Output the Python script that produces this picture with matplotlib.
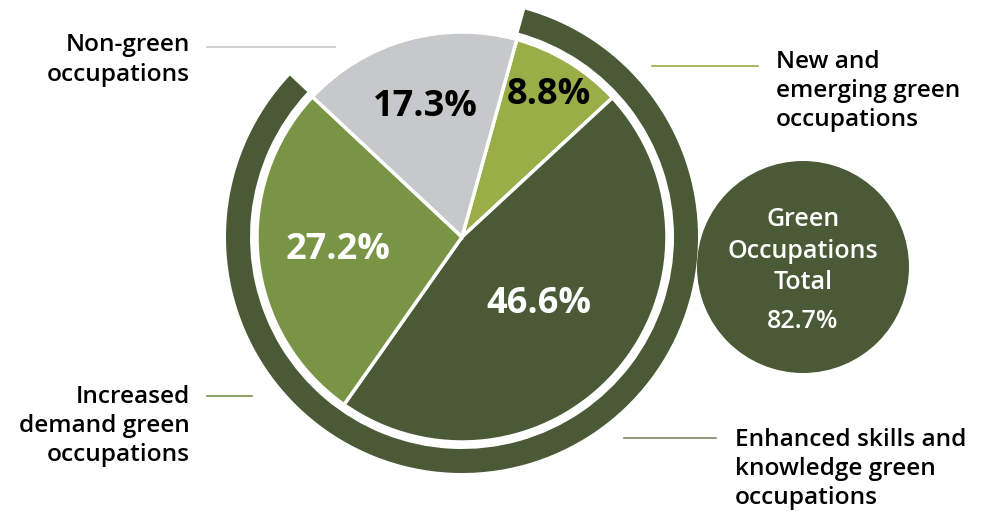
import numpy as np
import matplotlib
matplotlib.use("Agg")
import matplotlib.pyplot as plt
from matplotlib.patches import Wedge, Circle

# ── 数据 ──
categories = [
    "New and\nemerging green\noccupations",
    "Enhanced skills and\nknowledge green\noccupations",
    "Increased\ndemand green\noccupations",
    "Non-green\noccupations",
]
shares = [8.8, 46.6, 27.2, 17.3]
pct_labels = ["8.8%", "46.6%", "27.2%", "17.3%"]
is_green = [True, True, True, False]
total_label = "Green\nOccupations\nTotal"
total_value = "82.7%"

# ── 样式 ──
DARK = "#4a5a36"
colors = ["#9aae48", DARK, "#7a9446", "#c7c8ca"]
pct_colors = ["black", "white", "white", "black"]
pct_radius = [0.81, 0.50, 0.61, 0.66]      # 百分比标签的径向位置
line_colors = ["#9aae48", "#7d8a68", "#7a9446", "#c7c8ca"]

plt.rcParams["font.family"] = ["Open Sans", "DejaVu Sans"]

W, H = 991, 511
fig = plt.figure(figsize=(W / 100, H / 100), dpi=100)
ax = fig.add_axes([0, 0, 1, 1])

cx, cy, R = 462, 274, 205
start = 74.5

wedges, _ = ax.pie(
    shares, colors=colors, startangle=start, counterclock=False,
    center=(cx, cy), radius=R, frame=True,
    wedgeprops=dict(edgecolor="white", linewidth=2.5),
)
ax.set_xlim(0, W)
ax.set_ylim(0, H)
ax.set_aspect("equal")
ax.axis("off")

# 外圈：绿色职业合计
green_total = sum(s for s, g in zip(shares, is_green) if g)
ring = Wedge((cx, cy), 236, start - 360 * green_total / sum(shares), start,
             width=24, facecolor=DARK, edgecolor="none")
ax.add_patch(ring)

# 百分比
for w, lab, c, rf in zip(wedges, pct_labels, pct_colors, pct_radius):
    mid = np.deg2rad((w.theta1 + w.theta2) / 2)
    ax.text(cx + rf * R * np.cos(mid), cy + rf * R * np.sin(mid), lab,
            ha="center", va="center", fontsize=26, fontweight="bold", color=c)

# 右侧合计圆
ax.add_patch(Circle((803, 244), 106, facecolor=DARK, edgecolor="none"))
ax.text(803, 260, total_label, ha="center", va="center", fontsize=18,
        fontweight="semibold", color="white", linespacing=1.35)
ax.text(803, 189, total_value, ha="center", va="center", fontsize=18,
        fontweight="semibold", color="white")

# 分类标签与引线
label_pos = [  # (文本x, 文本块中心y, 对齐, 引线x0, 引线x1, 引线y)
    (776, 420, "left", 652, 758, 445),
    (735, 42, "left", 624, 716, 73),
    (190, 85, "right", 207, 252, 115),
    (190, 451, "right", 207, 335, 464),
]
for cat, lc, (tx, ty, ha, x0, x1, ly) in zip(categories, line_colors, label_pos):
    ax.text(tx, ty, cat, ha=ha, va="center", fontsize=17.6, fontweight="semibold",
            color="black", linespacing=1.3)
    ax.plot([x0, x1], [ly, ly], color=lc, linewidth=1.2)

fig.savefig("out.png", dpi=100)
